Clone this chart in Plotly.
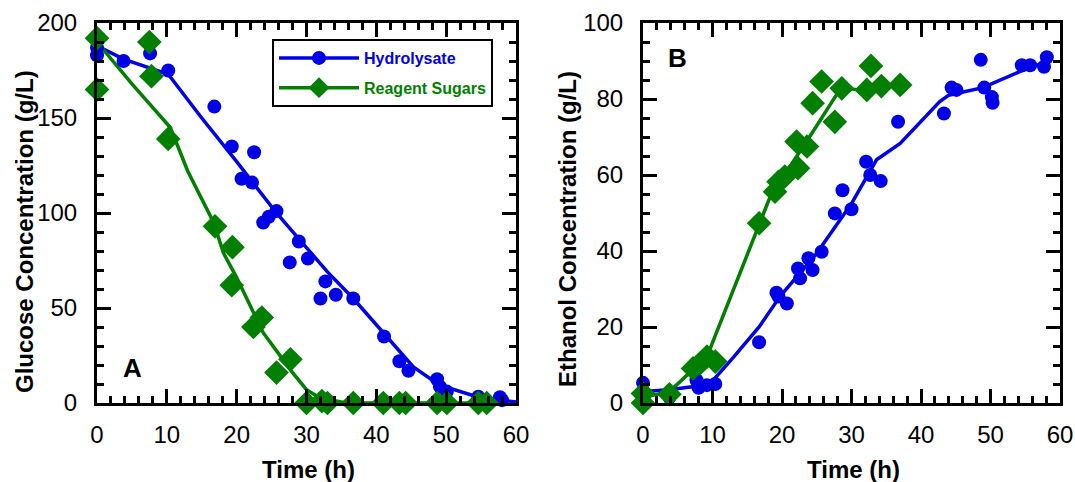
import plotly.graph_objects as go

# ---------------- data ----------------
# Panel A: glucose (g/L)
gluc_hyd_t = [0, 0, 3.8, 7.6, 10.2, 16.8, 19.3, 20.7, 22.2, 22.5, 23.8, 24.6, 25.7, 27.6, 28.9,
              30.2, 32.0, 32.7, 34.2, 36.7, 41.1, 43.3, 44.6, 48.7, 49.1, 50.1, 54.6, 57.7, 58.0]
gluc_hyd_g = [187, 183, 180, 184, 175, 156, 135, 118, 116, 132, 95, 98, 101, 74, 85,
              76, 55, 64, 57, 55, 35, 22, 17, 12.5, 8.6, 6, 3.3, 3, 1.5]
gluc_rea_t = [0, 0, 7.5, 7.8, 10.2, 16.9, 19.4, 19.3, 22.4, 23.6, 25.7, 27.7, 30.0, 32.2,
              33.0, 36.7, 41.0, 43.3, 44.2, 48.7, 50.1, 54.6, 55.8]
gluc_rea_g = [192, 165, 190, 172, 139, 93, 82, 62, 40, 45, 16, 23, 0, 1,
              0, 0, 0, 0, 0, 0, 0, 0, 0]
fit_gluc_hyd_t = [0, 3.8, 10.2, 15, 20, 25.7, 29, 33, 36.7, 41, 45.3, 49, 54.4, 60]
fit_gluc_hyd_g = [188, 181, 173, 150, 127, 100, 86, 69, 55, 37, 19, 9.5, 3.3, 0.5]
fit_gluc_rea_t = [0, 5, 10.5, 13, 16.7, 18.1, 20, 22, 23.8, 26, 28, 30, 32, 35, 38, 56]
fit_gluc_rea_g = [190, 168, 145, 122, 95, 79, 66, 51, 37, 26, 16, 7, 2.5, 0.5, 0, 0]

# Panel B: ethanol (g/L)
eth_hyd_t = [0, 3.8, 7.7, 8.0, 9.2, 10.4, 16.7, 19.2, 19.5, 20.7, 22.3, 22.6, 23.8, 24.4, 25.7,
             27.6, 28.7, 30.0, 32.1, 32.7, 34.2, 36.7, 43.3, 44.4, 45.1, 48.6, 49.1, 50.2, 50.3,
             54.5, 55.7, 57.7, 58.1]
eth_hyd_e = [5.3, 1.5, 6, 4, 4.7, 5, 16, 29, 28, 26.2, 35.4, 32.8, 38.1, 35, 39.8,
             49.9, 56, 51, 63.5, 60, 58.4, 74, 76.2, 83, 82.4, 90.3, 83, 80.5, 79,
             88.9, 88.9, 88.5, 91]
eth_rea_t = [0, 0, 3.8, 7.2, 8.2, 9.2, 10.4, 16.7, 19.0, 19.5, 20.4, 22.1, 22.3, 23.6, 24.4,
             25.7, 27.6, 28.6, 32.2, 32.8, 34.3, 37.0]
eth_rea_e = [0, 2.5, 2.3, 9.1, 10.4, 12.2, 10.9, 47.3, 55.6, 58.2, 59.6, 68.8, 61.8, 67.5, 78.9,
             84.6, 74, 82.8, 82.4, 88.7, 83.4, 83.7]
fit_eth_hyd_t = [0, 3.8, 7.6, 9.9, 13, 16.7, 19.7, 25, 30, 33.6, 37, 42.7, 44, 48.9, 54.2, 58.1]
fit_eth_hyd_e = [3, 3.5, 4.4, 5.6, 12, 20, 28, 39.4, 52.5, 64, 68.3, 79.3, 81, 83, 87.2, 89.8]
fit_eth_rea_t = [0, 3.8, 9.2, 16.7, 18.3, 24.3, 28.5, 31, 32.5, 34.3, 37]
fit_eth_rea_e = [1.5, 3, 12.2, 47.3, 54.3, 71.0, 83, 82.4, 82, 83.4, 83.7]

series_names = ["Hydrolysate", "Reagent Sugars"]
x_title = "Time (h)"
y_titles = ["Glucose Concentration (g/L)", "Ethanol Concentration (g/L)"]
panel_labels = ["A", "B"]

# ---------------- style ----------------
BLUE = "#0000e8"
GREEN = "#007f00"
FONT = "Liberation Sans, Arial, sans-serif"
LW = 3.5

fig = go.Figure()


def add_panel(xa, ya, hyd_t, hyd_v, rea_t, rea_v, fh_t, fh_v, fr_t, fr_v):
    fig.add_trace(go.Scatter(x=fh_t, y=fh_v, mode="lines", line=dict(color=BLUE, width=LW),
                             xaxis=xa, yaxis=ya, showlegend=False, cliponaxis=False))
    fig.add_trace(go.Scatter(x=fr_t, y=fr_v, mode="lines", line=dict(color=GREEN, width=LW),
                             xaxis=xa, yaxis=ya, showlegend=False, cliponaxis=False))
    fig.add_trace(go.Scatter(x=hyd_t, y=hyd_v, mode="markers",
                             marker=dict(color=BLUE, size=14, symbol="circle"),
                             xaxis=xa, yaxis=ya, showlegend=False, cliponaxis=False))
    fig.add_trace(go.Scatter(x=rea_t, y=rea_v, mode="markers",
                             marker=dict(color=GREEN, size=19, symbol="diamond"),
                             xaxis=xa, yaxis=ya, showlegend=False, cliponaxis=False))


add_panel("x", "y", gluc_hyd_t, gluc_hyd_g, gluc_rea_t, gluc_rea_g,
          fit_gluc_hyd_t, fit_gluc_hyd_g, fit_gluc_rea_t, fit_gluc_rea_g)
add_panel("x2", "y2", eth_hyd_t, eth_hyd_e, eth_rea_t, eth_rea_e,
          fit_eth_hyd_t, fit_eth_hyd_e, fit_eth_rea_t, fit_eth_rea_e)

# legend entries
fig.add_trace(go.Scatter(x=[None], y=[None], mode="lines+markers",
                         name="<b><span style='color:%s'>%s</span></b>" % (BLUE, series_names[0]),
                         line=dict(color=BLUE, width=LW),
                         marker=dict(color=BLUE, size=14, symbol="circle"),
                         legendgroup="a", xaxis="x", yaxis="y"))
fig.add_trace(go.Scatter(x=[None], y=[None], mode="lines+markers",
                         name="<b><span style='color:%s'>%s</span></b>" % (GREEN, series_names[1]),
                         line=dict(color=GREEN, width=LW),
                         marker=dict(color=GREEN, size=18, symbol="diamond"),
                         legendgroup="b", xaxis="x", yaxis="y"))

W, H = 1075, 482


def px(v):
    return v / W


def py(v):
    return 1 - v / H


axis_common = dict(
    showline=True, linecolor="black", linewidth=3, mirror="ticks",
    ticks="inside", ticklen=14, tickwidth=2.5, tickcolor="black",
    showgrid=False, zeroline=False, automargin=False,
    tickfont=dict(family=FONT, size=24, color="black"),
)
minor_common = dict(ticks="inside", ticklen=7, tickwidth=2.5, tickcolor="black")

xdom_a = [px(97), px(516)]
xdom_b = [px(643), px(1060)]
ydom = [py(403), py(23)]

title_font = dict(family=FONT, size=24, color="black")


def ann(text, x, y, font, angle=0):
    return dict(text=text, x=px(x), y=py(y), xref="paper", yref="paper",
                xanchor="center", yanchor="middle", showarrow=False,
                textangle=angle, font=font)


fig.update_layout(
    width=W, height=H,
    margin=dict(l=0, r=0, t=0, b=0, autoexpand=False),
    paper_bgcolor="white", plot_bgcolor="white",
    xaxis=dict(domain=xdom_a, anchor="y", range=[0, 60], dtick=10,
               minor=dict(dtick=2, **minor_common), ticklabelstandoff=8, **axis_common),
    yaxis=dict(domain=ydom, anchor="x", range=[0, 200], dtick=50,
               minor=dict(dtick=10, **minor_common), ticklabelstandoff=12, **axis_common),
    xaxis2=dict(domain=xdom_b, anchor="y2", range=[0, 60], dtick=10,
                minor=dict(dtick=2, **minor_common), ticklabelstandoff=8, **axis_common),
    yaxis2=dict(domain=ydom, anchor="x2", range=[0, 100], dtick=20,
                minor=dict(dtick=5, **minor_common), ticklabelstandoff=12, **axis_common),
    legend=dict(x=px(272), y=py(39), xanchor="left", yanchor="top",
                bordercolor="black", borderwidth=2, bgcolor="white",
                font=dict(family=FONT, size=16, color="black"),
                itemwidth=80, tracegroupgap=6, itemclick=False),
    annotations=[
        ann("<b>%s</b>" % panel_labels[0], 132, 368, dict(family=FONT, size=26, color="black")),
        ann("<b>%s</b>" % panel_labels[1], 677, 58, dict(family=FONT, size=26, color="black")),
        ann("<b>%s</b>" % x_title, 308, 469, title_font),
        ann("<b>%s</b>" % x_title, 853, 469, title_font),
        ann("<b>%s</b>" % y_titles[0], 24, 232, title_font, -90),
        ann("<b>%s</b>" % y_titles[1], 567, 229, title_font, -90),
    ],
)

fig.write_html("out.html", config={"displayModeBar": False},
               post_script="document.body.style.margin='0px';")
